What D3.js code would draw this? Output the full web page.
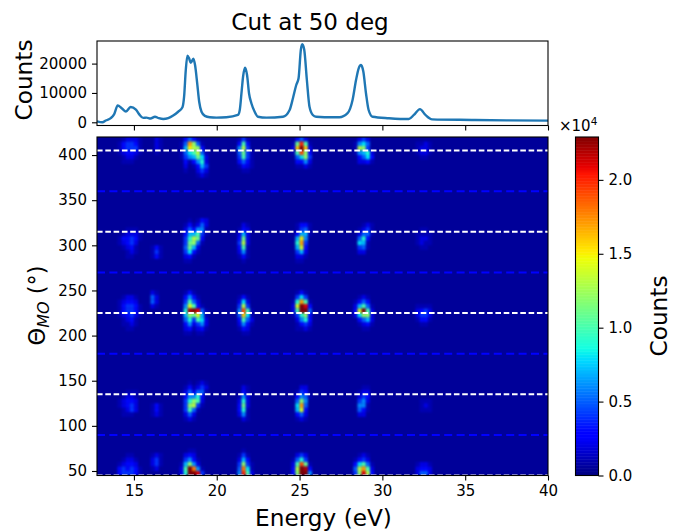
<!DOCTYPE html>
<html>
<head>
<meta charset="utf-8">
<script src="https://cdnjs.cloudflare.com/ajax/libs/d3/7.8.5/d3.min.js"></script>
<style>
body { margin: 0; background: #fff; }
text { font-family: "DejaVu Sans", sans-serif; fill: #000; }
</style>
</head>
<body>
<div id="chart"></div>
<script>
// top panel
var cutEnergy = [12.77,13.1,13.3,13.6,13.8,14.02,14.26,14.52,14.8,15.12,15.32,15.56,15.76,16,16.27,16.5,16.77,17.07,17.37,17.67,17.93,18.03,18.13,18.23,18.33,18.43,18.59,18.69,18.82,18.94,19.08,19.28,19.58,19.98,20.58,21.28,21.39,21.51,21.59,21.71,21.83,21.95,22.09,22.29,22.49,23,24,24.4,24.6,24.8,24.94,25.08,25.16,25.28,25.44,25.6,25.8,26,27,27.4,27.9,28.2,28.41,28.57,28.71,28.85,29.01,29.17,29.41,30.4,31.6,31.9,32.27,32.6,33,35.4,37.5,40]
var cutCounts = [300,0,600,1400,2700,5700,4800,3700,5200,4300,2700,1500,1600,1300,1900,1400,1100,1400,2300,3600,5100,8800,17800,22700,21800,20300,21700,19500,13300,7000,3600,2200,1700,1600,1700,2500,4200,11000,15600,18600,16100,9800,6500,3600,1900,1600,1900,4200,8200,12700,15000,24800,26600,24800,14500,5300,2500,1900,1700,1700,3100,7600,14400,18400,19500,17300,9900,4200,1900,1400,1100,2500,4500,2500,1000,800,650,570]

var energyTicks = [15,20,25,30,35,40]
var thetaTicks = [50,100,150,200,250,300,350,400]
var countTicks = [0,10000,20000]
var colorTicks = [0,5000,10000,15000,20000]
var whiteCuts = [45,135,225,315,405]
var blueCuts = [90,180,270,360]

var bgCounts = 500
var cellEnergy = 0.25
var cellTheta = 5

// patches of the map: [first energy, top theta, rows]
// one char per cell, base 36, in thousands of counts, 0 = background
var haze = [
  [14, 420, ['012221','134431','134441','123321','012210','011100']],
  [14, 320, ['001110','012221','133431','123420','012310','001210','001100']],
  [14, 245, ['012210','123320','134431','134431','123421','012310','011210','001100']],
  [14, 140, ['001110','012210','123320','123420','012420','011100']],
  [14, 70, ['001100','012210','123320','343431','344431']]
]
var peak16 = [
  [16, 420, ['021','021','021','010']],
  [16, 300, ['131','141','131']],
  [16, 250, ['21','52','52','21']],
  [16, 125, ['131','131','121']],
  [16, 70, ['121','241','241','120']]
]
var peak18 = [
  [17.75, 420, ['0353100','15hc510','17fdc30','158ad51','1467b82','0313692','0201374','0100242','0000121']],
  [17.75, 330, ['0010132','0131252','0253661','0377a41','049db30','04bc510','05b7200','0483100','0231000','0110000']],
  [17.75, 250, ['0131000','0363100','04a5200','06ea310','09mnl51','07cbe71','0594a82','0362462','0231231','0110110']],
  [17.75, 150, ['0010121','0131242','0252551','0366930','049ca20','04cd410','04a5100','0252000','0121000']],
  [17.75, 75, ['0011000','0232000','0463100','17c6200','2ani610','29nnl40']]
]
var peak21 = [
  [21, 420, ['01410','03a30','06d40','05b41','04a41','03531','01321','00110']],
  [21, 325, ['00210','01320','02720','03b20','04d20','03a10','02610','01310','00100']],
  [21, 245, ['01310','02820','04d40','06ja1','05g81','03a52','02631','01320','00110']],
  [21, 145, ['00210','00310','01620','02920','03b20','03910','02610','00210']],
  [21, 75, ['00100','01410','02730','04c41','05i81','06ka2']]
]
var peak25 = [
  [24.5, 420, ['03520','1bka1','2gng2','1ajc3','058c4','03362','01121']],
  [24.5, 325, ['01331','01451','03771','07f60','09h40','07e30','04720','02210','01100']],
  [24.5, 250, ['01310','04840','19ha1','2enl3','2ann5','149c3','02693','01342','01121']],
  [24.5, 145, ['00220','01430','03651','05c60','08h50','07e30','03520','01210']],
  [24.5, 70, ['02420','15940','2ajb1','3dnm3','3cnn6']]
]
var peak28 = [
  [28.25, 420, ['02420','16850','1dc40','16792','03583','02231']],
  [28.25, 325, ['00121','01241','02551','05930','08710','04510','02200']],
  [28.25, 245, ['01210','13530','27a51','3ena2','28cc2','03572','01231','00110']],
  [28.25, 145, ['00110','01220','02430','04620','06610','05310','02200']],
  [28.25, 70, ['01210','13420','38a51','5dha2','4cld3']]
]
var peak32 = [
  [32, 415, ['1121','1221','1221','0110']],
  [32, 320, ['0110','1111','1221','1211','0110']],
  [32, 235, ['1111','2342','2442','1331','0110']],
  [32, 130, ['0111','0121','0111']],
  [32, 60, ['1221','2332','2552']]
]

var width = 683, height = 531
var left = 97, right = 548

var x = d3.scaleLinear().domain([12.77, 40]).range([left, right])
var yCut = d3.scaleLinear().domain([-1090, 27700]).range([125.5, 41])
var yMap = d3.scaleLinear().domain([45, 420]).range([475.5, 137])
var yBar = d3.scaleLinear().domain([0, 22900]).range([475.5, 137])

// matplotlib jet
var jetR = d3.scaleLinear().domain([0,0.35,0.66,0.89,1]).range([0,0,1,1,0.5])
var jetG = d3.scaleLinear().domain([0,0.125,0.375,0.64,0.91,1]).range([0,0,1,1,0,0])
var jetB = d3.scaleLinear().domain([0,0.11,0.34,0.65,1]).range([0.5,1,1,0,0])
function jet(v) {
    var t = Math.min(1, v / 22900)
    return d3.rgb(jetR(t) * 255, jetG(t) * 255, jetB(t) * 255).formatRgb()
}

var svg = d3.select('#chart').append('svg')
    .attr('width', width)
    .attr('height', height)
    .style('display', 'block')

var defs = svg.append('defs')
defs.append('clipPath').attr('id', 'mapClip').append('rect')
    .attr('x', left).attr('y', 137).attr('width', right - left).attr('height', 338.5)
defs.append('filter').attr('id', 'soft')
    .attr('x', '-2%').attr('y', '-2%').attr('width', '104%').attr('height', '104%')
    .attr('color-interpolation-filters', 'sRGB')
    .append('feGaussianBlur').attr('stdDeviation', 1.3)

function styleAxis(g, size) {
    g.select('.domain').remove()
    g.selectAll('line').attr('stroke', '#000').attr('stroke-width', 1.1)
    g.selectAll('text').style('font-size', size + 'px').attr('fill', '#000')
}

// cut panel
var cut = svg.append('g')
cut.append('path')
    .datum(d3.range(cutEnergy.length))
    .attr('fill', 'none')
    .attr('stroke', '#1f77b4')
    .attr('stroke-width', 2.4)
    .attr('stroke-linejoin', 'round')
    .attr('d', d3.line().curve(d3.curveMonotoneX)
        .x(function(i) { return x(cutEnergy[i]) })
        .y(function(i) { return yCut(cutCounts[i]) }))
cut.append('rect').attr('x', left).attr('y', 41).attr('width', right - left).attr('height', 84.5)
    .attr('fill', 'none').attr('stroke', '#000').attr('stroke-width', 1.1)
cut.append('g').attr('transform', 'translate(0,125.5)')
    .call(d3.axisBottom(x).tickValues(energyTicks).tickSize(5).tickFormat(''))
    .call(styleAxis, 15)
cut.append('g').attr('transform', 'translate(' + left + ',0)')
    .call(d3.axisLeft(yCut).tickValues(countTicks).tickSize(5).tickPadding(5).tickFormat(d3.format('d')))
    .call(styleAxis, 15)

// map panel
var map = svg.append('g')
map.append('rect').attr('x', left).attr('y', 137).attr('width', right - left).attr('height', 338.5)
    .attr('fill', jet(bgCounts))

var cells = []
;[haze, peak16, peak18, peak21, peak25, peak28, peak32].forEach(function(peak) {
    peak.forEach(function(patch) {
        patch[2].forEach(function(row, r) {
            row.split('').forEach(function(ch, c) {
                var v = parseInt(ch, 36) * 1000
                if (v > 0) cells.push({ e: patch[0] + c * cellEnergy, t: patch[1] - r * cellTheta, v: v })
            })
        })
    })
})

map.append('g').attr('clip-path', 'url(#mapClip)')
    .append('g').attr('filter', 'url(#soft)')
    .selectAll('rect')
    .data(cells)
    .enter()
    .append('rect')
    .attr('x', function(d) { return x(d.e) })
    .attr('y', function(d) { return yMap(d.t) })
    .attr('width', function(d) { return x(d.e + cellEnergy) - x(d.e) })
    .attr('height', function(d) { return yMap(d.t - cellTheta) - yMap(d.t) })
    .attr('fill', function(d) { return jet(d.v) })

function cutLines(values, color, dash) {
    map.append('g').selectAll('line')
        .data(values)
        .enter()
        .append('line')
        .attr('x1', left).attr('x2', right)
        .attr('y1', function(d) { return yMap(d) })
        .attr('y2', function(d) { return yMap(d) })
        .attr('stroke', color)
        .attr('stroke-width', 2)
        .attr('stroke-dasharray', dash)
}
cutLines(blueCuts, '#0000ff', '8,4.4')
cutLines(whiteCuts, '#ffffff', '5.6,2.7')

map.append('rect').attr('x', left).attr('y', 137).attr('width', right - left).attr('height', 338.5)
    .attr('fill', 'none').attr('stroke', '#000').attr('stroke-width', 1.1)
map.append('g').attr('transform', 'translate(0,475.5)')
    .call(d3.axisBottom(x).tickValues(energyTicks).tickSize(5).tickPadding(5))
    .call(styleAxis, 15)
map.append('g').attr('transform', 'translate(' + left + ',0)')
    .call(d3.axisLeft(yMap).tickValues(thetaTicks).tickSize(5).tickPadding(5))
    .call(styleAxis, 15)

// colorbar
var bar = svg.append('g')
bar.selectAll('rect')
    .data(d3.range(0, 22900, 100))
    .enter()
    .append('rect')
    .attr('x', 575.5)
    .attr('width', 23)
    .attr('y', function(d) { return yBar(d + 100) })
    .attr('height', function(d) { return yBar(d) - yBar(d + 100) + 0.5 })
    .attr('fill', jet)
bar.append('rect').attr('x', 575.5).attr('y', 137).attr('width', 23).attr('height', 338.5)
    .attr('fill', 'none').attr('stroke', '#000').attr('stroke-width', 1.1)
bar.append('g').attr('transform', 'translate(598.5,0)')
    .call(d3.axisRight(yBar).tickValues(colorTicks).tickSize(5).tickPadding(5)
        .tickFormat(function(d) { return (d / 10000).toFixed(1) }))
    .call(styleAxis, 15)

var expo = svg.append('text').attr('x', 559).attr('y', 131).style('font-size', '15px')
expo.append('tspan').text('×10')
expo.append('tspan').attr('dy', -6).style('font-size', '10.5px').text('4')

// labels
svg.append('text').attr('x', 310).attr('y', 30).attr('text-anchor', 'middle')
    .style('font-size', '23px').text('Cut at 50 deg')
svg.append('text').attr('x', 323.5).attr('y', 526).attr('text-anchor', 'middle')
    .style('font-size', '23.2px').text('Energy (eV)')
svg.append('text').attr('transform', 'translate(31.5,80) rotate(-90)').attr('text-anchor', 'middle')
    .style('font-size', '23.2px').text('Counts')
svg.append('text').attr('transform', 'translate(667,316) rotate(-90)').attr('text-anchor', 'middle')
    .style('font-size', '23.2px').text('Counts')
var thetaLabel = svg.append('text').attr('transform', 'translate(45,305.5) rotate(-90)')
    .attr('text-anchor', 'middle').style('font-size', '22.5px')
thetaLabel.append('tspan').text('Θ')
thetaLabel.append('tspan').attr('dy', 4).style('font-size', '16px').style('font-style', 'italic').text('MO')
thetaLabel.append('tspan').attr('dy', -4).text(' (°)')
</script>
</body>
</html>
